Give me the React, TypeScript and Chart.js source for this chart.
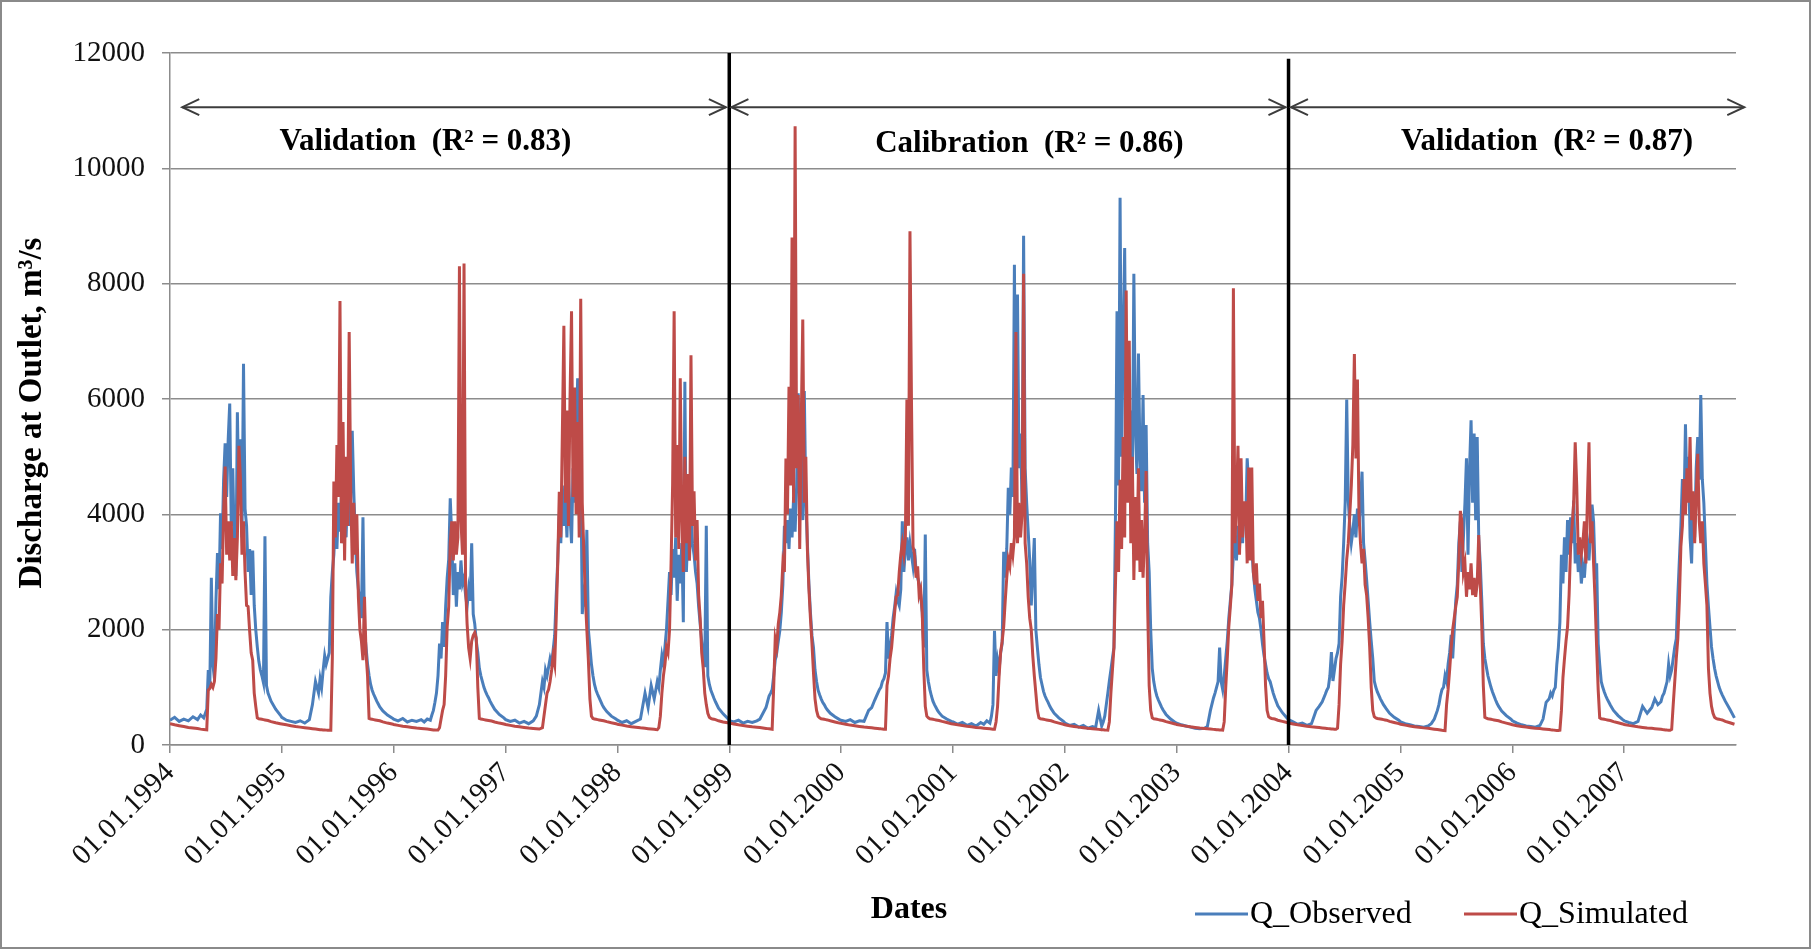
import React, { useEffect, useRef } from 'react';
import { Chart, registerables } from 'chart.js';

Chart.register(...registerables);

// Sampling days within each year (day of year)
const sampleDays = [0, 15, 30, 45, 60, 75, 90, 100, 110, 120,
  125, 130, 135, 140, 145, 150, 155, 160, 165, 170,
  175, 180, 185, 190, 195, 200, 205, 210, 215, 220,
  225, 230, 235, 240, 245, 250, 255, 260, 265, 270,
  275, 280, 285, 290, 295, 300, 305, 310, 315, 320,
  330, 345, 360];

// Days since 01.01.1994 of each year start
const yearStarts = [0, 365, 730, 1096, 1461, 1826, 2191, 2557, 2922, 3287, 3652, 4018, 4383, 4748];
const tickLabels = ['01.01.1994', '01.01.1995', '01.01.1996', '01.01.1997', '01.01.1998', '01.01.1999', '01.01.2000',
  '01.01.2001', '01.01.2002', '01.01.2003', '01.01.2004', '01.01.2005', '01.01.2006', '01.01.2007'];
const axisEndDay = 5113;
const yTicks = [0, 2000, 4000, 6000, 8000, 10000, 12000];

// Q_Observed (m3/s)
const obs1994 = [430, 480, 410, 450, 420, 490, 440, 520, 470, 620,
  1300, 1000, 2900, 1400, 1150, 2500, 3330, 2700, 4020, 3400,
  4600, 5230, 4300, 5300, 5920, 3800, 4800, 3400, 2930, 5770,
  4200, 5300, 3600, 6610, 4100, 3800, 3000, 3400, 2600, 3370,
  2420, 2000, 1700, 1450, 1300, 1200, 1080, 3620, 1030, 900,
  760, 620, 520];
const obs1995 = [480, 430, 410, 390, 420, 380, 440, 700, 1100, 900,
  1150, 1000, 1300, 1550, 1400, 1500, 1600, 2570, 3000, 3300,
  3900, 3400, 4200, 3700, 4400, 3500, 4100, 3600, 4500, 3800,
  4300, 5450, 4400, 3600, 3000, 2700, 2500, 2200, 3950, 1990,
  1700, 1400, 1200, 1050, 950, 880, 820, 760, 710, 660,
  590, 520, 470];
const obs1996 = [450, 420, 460, 400, 430, 410, 440, 400, 450, 430,
  520, 600, 740, 900, 1200, 1760, 1500, 2130, 1700, 2400,
  2900, 3220, 4280, 3600, 2600, 3150, 2400, 3000, 2700, 3200,
  2800, 2900, 2600, 2400, 2700, 2500, 3500, 2270, 2100, 1800,
  1600, 1330, 1200, 1100, 1000, 930, 870, 820, 760, 710,
  620, 530, 470];
const obs1997 = [440, 410, 430, 380, 410, 370, 420, 500, 700, 1100,
  1000, 1300, 1200, 1350, 1500, 1400, 1650, 1900, 2600, 3200,
  4000, 3500, 4500, 3800, 4300, 3600, 4700, 4000, 3500, 4800,
  4200, 5200, 6360, 4600, 5000, 2270, 2600, 2400, 3730, 2000,
  1700, 1400, 1200, 1050, 950, 880, 820, 760, 700, 650,
  580, 500, 450];
const obs1998 = [430, 390, 420, 370, 410, 450, 900, 650, 1030, 800,
  950, 1100, 1000, 1300, 1550, 1400, 1700, 2000, 2500, 3000,
  2600, 3400, 2900, 3600, 2500, 3300, 2800, 3500, 2130, 6300,
  3000, 3700, 3200, 4000, 3500, 3300, 3000, 2800, 2400, 2100,
  1800, 1550, 1350, 3800, 1200, 1050, 950, 880, 810, 750,
  640, 540, 460];
const obs1999 = [420, 400, 430, 380, 410, 390, 420, 450, 550, 650,
  750, 850, 900, 960, 1200, 1470, 1600, 1800, 1980, 2300,
  2780, 3800, 3500, 3900, 3400, 4100, 3600, 4300, 3700, 4500,
  6100, 4000, 4800, 3900, 6140, 4200, 3500, 2800, 2300, 1900,
  1690, 1300, 1100, 950, 870, 800, 740, 700, 650, 610,
  550, 490, 440];
const obs2000 = [430, 410, 440, 390, 420, 410, 600, 650, 780, 900,
  960, 1000, 1100, 1150, 1250, 2130, 1500, 1690, 1900, 2200,
  2400, 2640, 2500, 2420, 2700, 3880, 3000, 3400, 3600, 3200,
  3500, 3300, 3100, 3400, 3000, 2900, 2800, 2600, 2300, 1690,
  3650, 1300, 1100, 960, 850, 760, 700, 650, 600, 560,
  500, 450, 410];
const obs2001 = [400, 360, 390, 340, 370, 330, 390, 360, 420, 380,
  500, 700, 1980, 1200, 1470, 1300, 1600, 1760, 3350, 2900,
  3400, 4460, 4000, 4810, 4300, 8330, 4500, 7810, 4800, 5400,
  4200, 8830, 4800, 4200, 3700, 3200, 2420, 3000, 3590, 2000,
  1690, 1400, 1170, 1050, 930, 850, 790, 740, 680, 630,
  550, 470, 410];
const obs2002 = [380, 340, 360, 310, 340, 290, 320, 300, 600, 330,
  400, 500, 700, 900, 1110, 1300, 1500, 1690, 4000, 7520,
  4500, 9490, 5000, 7000, 8620, 5200, 6500, 4800, 5800, 4600,
  8170, 5500, 4700, 6790, 5000, 4400, 6070, 4200, 5550, 3500,
  3000, 2000, 1330, 1100, 950, 850, 780, 720, 660, 610,
  530, 450, 390];
const obs2003 = [380, 350, 330, 310, 290, 280, 290, 320, 600, 815,
  900, 1000, 1100, 1690, 1100, 960, 1200, 1500, 1800, 2200,
  2500, 2800, 3300, 3600, 3200, 3800, 3400, 4000, 3500, 4200,
  3800, 4970, 4500, 3800, 3400, 3000, 2700, 2500, 2300, 2200,
  2000, 1750, 1550, 1400, 1250, 1150, 1100, 1000, 900, 820,
  680, 560, 470];
const obs2004 = [440, 400, 360, 380, 340, 370, 600, 670, 750, 880,
  950, 1000, 1200, 1610, 1110, 1300, 1500, 1600, 1760, 2570,
  2920, 3500, 4200, 5990, 4240, 3800, 3500, 3700, 4000, 3600,
  4100, 3800, 4200, 4740, 3500, 3200, 2860, 2500, 2130, 1800,
  1500, 1110, 1000, 920, 860, 800, 750, 700, 660, 620,
  550, 480, 430];
const obs2005 = [400, 370, 350, 330, 320, 310, 330, 370, 450, 600,
  700, 850, 960, 1000, 1200, 1100, 1400, 1600, 1910, 1500,
  2000, 2500, 2780, 3500, 3880, 3000, 3600, 4200, 4970, 3300,
  4800, 5630, 4200, 5400, 3900, 5340, 3600, 3150, 2500, 1760,
  1500, 1350, 1200, 1100, 1000, 920, 850, 780, 720, 670,
  590, 510, 450];
const obs2006 = [420, 380, 350, 330, 320, 310, 340, 450, 740, 800,
  900, 850, 950, 1000, 1400, 1690, 2130, 3300, 2800, 3600,
  3000, 3900, 3300, 3950, 3500, 4240, 3150, 3500, 3000, 3300,
  2800, 3100, 2900, 3300, 3500, 3200, 3700, 4170, 3880, 3000,
  3150, 1760, 1400, 1100, 1000, 920, 850, 790, 740, 690,
  600, 510, 440];
const obs2007 = [420, 390, 370, 410, 670, 550, 650, 800, 700, 750,
  850, 900, 1000, 1100, 1400, 1200, 1300, 1500, 1700, 1840,
  2570, 3200, 3800, 4610, 4000, 5560, 4300, 5000, 3600, 3150,
  4200, 3600, 4800, 5340, 4600, 6070, 4610, 4200, 3500, 2800,
  2400, 2050, 1700, 1500, 1330, 1200, 1100, 1000, 930, 870,
  760, 620, 470];

// Q_Simulated (m3/s)
const sim1994 = [370, 350, 335, 320, 305, 295, 285, 275, 268, 262,
  950, 980, 1050, 1000, 1100, 1500, 2270, 2000, 3150, 2800,
  4000, 4830, 3300, 3880, 3200, 3880, 2930, 3590, 2860, 3600,
  5190, 4610, 3300, 3880, 3000, 2420, 2400, 1980, 1600, 1470,
  900, 670, 470, 455, 450, 445, 440, 435, 430, 425,
  405, 385, 370];
const sim1995 = [365, 350, 335, 320, 310, 300, 290, 283, 276, 270,
  266, 264, 262, 260, 258, 256, 255, 255, 1500, 4570,
  3600, 5200, 4300, 7700, 3500, 5600, 3200, 5000, 3800, 7160,
  4400, 3150, 4200, 3300, 4000, 2570, 2000, 1800, 1470, 2570,
  1600, 1200, 460, 450, 445, 440, 435, 430, 425, 420,
  400, 380, 365];
const sim1996 = [355, 340, 325, 315, 305, 295, 288, 282, 276, 270,
  266, 262, 260, 258, 258, 300, 450, 600, 700, 1200,
  2050, 2400, 3500, 3880, 3200, 3880, 3300, 3600, 8300, 3900,
  3300, 8350, 2800, 2100, 1690, 1500, 1800, 1900, 1950, 1850,
  1000, 460, 450, 445, 440, 435, 430, 425, 420, 415,
  400, 380, 365];
const sim1997 = [355, 340, 325, 315, 305, 295, 288, 282, 276, 300,
  500, 700, 900, 960, 1100, 1300, 1550, 1400, 2200, 3150,
  4390, 3600, 5400, 7270, 4200, 5800, 3800, 6000, 7520, 4300,
  6200, 4000, 5600, 3600, 7740, 4200, 3400, 2570, 2000, 1470,
  800, 500, 460, 450, 445, 440, 435, 430, 425, 420,
  405, 385, 370];
const sim1998 = [360, 345, 330, 318, 308, 298, 290, 283, 277, 272,
  268, 265, 300, 500, 900, 1200, 1400, 1690, 1600, 2000,
  3150, 4500, 7520, 3600, 5200, 3400, 6360, 4000, 3000, 5000,
  3500, 4700, 3200, 6760, 3800, 4400, 3200, 3900, 2600, 2200,
  1600, 1330, 900, 700, 550, 480, 460, 450, 445, 440,
  420, 400, 385];
const sim1999 = [380, 365, 350, 338, 327, 317, 309, 302, 295, 288,
  284, 280, 276, 272, 1000, 1840, 1700, 2100, 2300, 2600,
  3150, 3000, 4970, 4000, 6210, 4500, 8800, 4200, 10730, 4800,
  6070, 3400, 5600, 7380, 4200, 5000, 3400, 2710, 2200, 1760,
  1250, 800, 600, 500, 470, 455, 450, 445, 440, 435,
  420, 400, 380];
const sim2000 = [375, 360, 345, 333, 322, 312, 305, 298, 292, 286,
  283, 280, 278, 275, 273, 1030, 1200, 1500, 1690, 2000,
  2300, 2570, 2600, 3000, 3300, 3500, 3300, 3600, 5990, 3800,
  8910, 5920, 3440, 3300, 2900, 3100, 2600, 2700, 2300, 1330,
  670, 500, 470, 455, 450, 445, 440, 435, 430, 425,
  410, 390, 370];
const sim2001 = [365, 350, 337, 325, 315, 305, 298, 292, 286, 281,
  278, 275, 273, 400, 670, 1200, 1610, 1800, 2050, 2500,
  2900, 3220, 3100, 3500, 3300, 3600, 7160, 3500, 4200, 3600,
  4000, 8170, 3500, 3150, 2570, 2200, 2000, 1550, 1200, 900,
  600, 470, 455, 450, 445, 440, 435, 430, 425, 420,
  400, 380, 360];
const sim2002 = [350, 335, 322, 310, 300, 290, 283, 277, 271, 266,
  263, 260, 258, 256, 400, 900, 1300, 1690, 2800, 3880,
  3000, 4600, 3400, 5340, 3600, 7880, 4200, 7010, 3500, 5000,
  2860, 4300, 3200, 4800, 3000, 3900, 2900, 3590, 4750, 2420,
  1030, 600, 470, 455, 450, 445, 440, 435, 430, 425,
  405, 385, 365];
const sim2003 = [355, 340, 327, 315, 305, 295, 288, 282, 276, 271,
  268, 265, 263, 261, 259, 257, 400, 1000, 1500, 2050,
  2400, 2780, 7920, 3500, 4200, 5190, 3300, 4970, 3600, 4200,
  4200, 3150, 4810, 3200, 4810, 3000, 2780, 3150, 2500, 2800,
  2200, 2500, 1800, 1030, 600, 490, 470, 460, 455, 450,
  430, 410, 390];
const sim2004 = [380, 365, 350, 338, 327, 317, 309, 302, 296, 290,
  287, 284, 281, 278, 276, 274, 272, 290, 700, 1400,
  1800, 2420, 2800, 3220, 3500, 4000, 4500, 5200, 6780, 4970,
  6340, 4000, 3500, 3150, 3400, 2780, 2600, 2200, 1690, 1000,
  600, 490, 470, 460, 455, 450, 445, 440, 435, 430,
  410, 390, 370];
const sim2005 = [360, 345, 330, 318, 307, 297, 289, 281, 274, 268,
  264, 260, 256, 253, 250, 700, 960, 1300, 1690, 2000,
  2200, 2400, 2570, 3200, 4060, 3880, 3000, 3150, 2570, 3000,
  2700, 3150, 2600, 2900, 2570, 2800, 3640, 2780, 2050, 1030,
  480, 465, 455, 450, 445, 440, 435, 430, 425, 420,
  400, 380, 360];
const sim2006 = [350, 335, 322, 311, 301, 292, 285, 279, 273, 268,
  264, 261, 258, 255, 253, 251, 255, 600, 1170, 1500,
  1800, 2050, 2600, 3440, 3800, 4200, 5250, 4500, 3300, 3600,
  3300, 3500, 3880, 3150, 4300, 5250, 3500, 3880, 3150, 2500,
  1690, 960, 470, 455, 450, 445, 440, 435, 430, 425,
  405, 385, 365];
const sim2007 = [355, 340, 327, 315, 305, 296, 289, 283, 277, 272,
  268, 265, 262, 259, 257, 256, 270, 700, 1100, 1500,
  1840, 2500, 3440, 3800, 4610, 4000, 4800, 4200, 5340, 3900,
  4400, 3500, 4300, 5050, 3880, 3500, 3880, 3150, 2800, 2420,
  1330, 900, 670, 550, 480, 460, 450, 445, 440, 435,
  410, 385, 360];

const observedYears = [obs1994, obs1995, obs1996, obs1997, obs1998, obs1999, obs2000,
  obs2001, obs2002, obs2003, obs2004, obs2005, obs2006, obs2007];
const simulatedYears = [sim1994, sim1995, sim1996, sim1997, sim1998, sim1999, sim2000,
  sim2001, sim2002, sim2003, sim2004, sim2005, sim2006, sim2007];

// Period annotations (days since 01.01.1994 / discharge units)
const periodBounds = [1826, 3652];
const periodBoundTops = [12000, 11900];
const arrowSpans = [[40, 1815], [1833, 3642], [3660, 5140]];
const arrowLevel = 11060;
const periodLabels = ['Validation  (R\u00B2 = 0.83)', 'Calibration  (R\u00B2 = 0.86)', 'Validation  (R\u00B2 = 0.87)'];
const periodLabelDays = [834, 2806, 4496];
const periodLabelLevels = [10460, 10420, 10460];

const SERIF = '"Liberation Serif", "Times New Roman", Times, serif';
const BLUE = '#4A7EBB';
const RED = '#BE4B48';
const GRID = '#8c8c8c';

function buildPoints(series: number[][]) {
  const pts: { x: number; y: number }[] = [];
  series.forEach((vals, yi) => {
    vals.forEach((v, i) => {
      pts.push({ x: yearStarts[yi] + sampleDays[i], y: v });
    });
  });
  return pts;
}

const decorPlugin = {
  id: 'decor',
  beforeDraw(chart: any) {
    const { ctx, width, height } = chart;
    ctx.save();
    ctx.fillStyle = '#ffffff';
    ctx.fillRect(0, 0, width, height);
    ctx.restore();
  },
  afterDatasetsDraw(chart: any) {
    const { ctx } = chart;
    const x = chart.scales.x;
    const y = chart.scales.y;
    ctx.save();
    // period separators
    ctx.strokeStyle = '#000000';
    ctx.lineWidth = 3.5;
    periodBounds.forEach((d, i) => {
      const px = x.getPixelForValue(d);
      ctx.beginPath();
      ctx.moveTo(px, y.getPixelForValue(periodBoundTops[i]));
      ctx.lineTo(px, y.getPixelForValue(0));
      ctx.stroke();
    });
    // arrows
    ctx.strokeStyle = '#3c3c3c';
    ctx.lineWidth = 2;
    const ay = y.getPixelForValue(arrowLevel);
    arrowSpans.forEach(([a, b]) => {
      const x1 = x.getPixelForValue(a);
      const x2 = x.getPixelForValue(b);
      ctx.beginPath();
      ctx.moveTo(x1, ay);
      ctx.lineTo(x2, ay);
      ctx.stroke();
      ctx.beginPath();
      ctx.moveTo(x1 + 17, ay - 8);
      ctx.lineTo(x1, ay);
      ctx.lineTo(x1 + 17, ay + 8);
      ctx.moveTo(x2 - 17, ay - 8);
      ctx.lineTo(x2, ay);
      ctx.lineTo(x2 - 17, ay + 8);
      ctx.stroke();
    });
    // period labels
    ctx.fillStyle = '#000000';
    ctx.font = 'bold 31px ' + SERIF;
    ctx.textAlign = 'center';
    ctx.textBaseline = 'middle';
    periodLabels.forEach((t, i) => {
      ctx.fillText(t, x.getPixelForValue(periodLabelDays[i]), y.getPixelForValue(periodLabelLevels[i]));
    });
    ctx.restore();
  },
  afterDraw(chart: any) {
    const { ctx, width, height } = chart;
    ctx.save();
    ctx.fillStyle = '#000000';
    ctx.textAlign = 'center';
    ctx.textBaseline = 'middle';
    // y-axis title
    ctx.save();
    ctx.translate(32, 413);
    ctx.rotate(-Math.PI / 2);
    ctx.font = 'bold 33px ' + SERIF;
    ctx.fillText('Discharge at Outlet, m\u00B3/s', 0, 0);
    ctx.restore();
    // x-axis title
    ctx.font = 'bold 32px ' + SERIF;
    ctx.fillText('Dates', 909, 910);
    // legend
    const items = chart.data.datasets.map((ds: any) => ({ label: ds.label, color: ds.borderColor }));
    const legendX = [1195, 1464];
    ctx.font = '32px ' + SERIF;
    ctx.textAlign = 'left';
    items.forEach((it: any, i: number) => {
      const lx = legendX[i];
      ctx.strokeStyle = it.color;
      ctx.lineWidth = 3;
      ctx.beginPath();
      ctx.moveTo(lx, 914);
      ctx.lineTo(lx + 53, 914);
      ctx.stroke();
      ctx.fillStyle = '#000000';
      ctx.fillText(it.label, lx + 55, 915);
    });
    // outer border
    ctx.strokeStyle = '#8a8a8a';
    ctx.lineWidth = 2;
    ctx.strokeRect(1, 1, width - 2, height - 2);
    ctx.restore();
  },
};

export default function App() {
  const canvasRef = useRef<HTMLCanvasElement | null>(null);

  useEffect(() => {
    if (!canvasRef.current) return;
    Chart.defaults.font.family = SERIF;
    const chart = new Chart(canvasRef.current, {
      type: 'line',
      data: {
        datasets: [
          {
            label: 'Q_Observed',
            data: buildPoints(observedYears),
            borderColor: BLUE,
            backgroundColor: BLUE,
            borderWidth: 3,
            pointRadius: 0,
            tension: 0,
            order: 1,
          },
          {
            label: 'Q_Simulated',
            data: buildPoints(simulatedYears),
            borderColor: RED,
            backgroundColor: RED,
            borderWidth: 3,
            pointRadius: 0,
            tension: 0,
            order: 0,
          },
        ],
      },
      options: {
        animation: false,
        responsive: false,
        events: [],
        layout: { padding: { left: 0, top: 53, right: 75, bottom: 0 } },
        plugins: {
          legend: { display: false },
          tooltip: { enabled: false },
        },
        scales: {
          x: {
            type: 'linear',
            min: 0,
            max: axisEndDay,
            afterBuildTicks: (s: any) => {
              s.ticks = yearStarts.map((v) => ({ value: v }));
            },
            afterFit: (s: any) => {
              s.height = 204;
            },
            ticks: {
              autoSkip: false,
              maxRotation: 45,
              minRotation: 45,
              padding: 3,
              color: '#111111',
              font: { size: 29, family: SERIF },
              callback: (v: any) => {
                const idx = yearStarts.indexOf(Number(v));
                return idx >= 0 ? tickLabels[idx] : '';
              },
            },
            grid: {
              drawOnChartArea: false,
              drawTicks: true,
              tickLength: 8,
              color: GRID,
              lineWidth: 1.5,
            },
            border: { display: true, color: GRID, width: 1.5 },
          },
          y: {
            min: 0,
            max: 12000,
            afterBuildTicks: (s: any) => {
              s.ticks = yTicks.map((v) => ({ value: v }));
            },
            afterFit: (s: any) => {
              s.width = 170;
            },
            ticks: {
              padding: 17,
              color: '#111111',
              font: { size: 29, family: SERIF },
              callback: (v: any) => String(v),
            },
            grid: { color: GRID, lineWidth: 1.5, tickLength: 8 },
            border: { display: true, color: GRID, width: 1.5 },
            title: { display: false },
          },
        },
      },
      plugins: [decorPlugin],
    } as any);
    return () => {
      chart.destroy();
    };
  }, []);

  return (
    <div style={{ position: 'fixed', left: 0, top: 0, width: 1811, height: 949, background: '#ffffff' }}>
      <canvas ref={canvasRef} width={1811} height={949} style={{ display: 'block', width: 1811, height: 949 }} />
    </div>
  );
}
